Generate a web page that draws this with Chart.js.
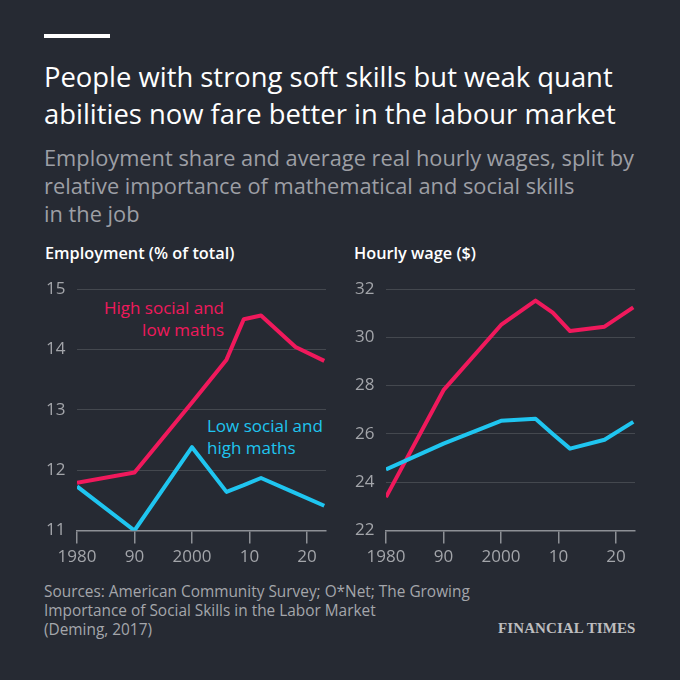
<!DOCTYPE html>
<html>
<head>
<meta charset="utf-8">
<script src="https://cdn.jsdelivr.net/npm/chart.js@4.4.1/dist/chart.umd.min.js"></script>
<style>
  html, body { margin:0; padding:0; }
  body { width:680px; height:680px; background:#262a33; position:relative; overflow:hidden; font-family:'Open Sans', sans-serif; }
  .abs { position:absolute; white-space:nowrap; }
  #bar { left:44px; top:34px; width:66px; height:4px; background:#fff; }
  #title { left:44px; top:58px; color:#fff; font-size:27.4px; line-height:37px; }
  #sub { left:44px; top:144px; color:#9d9fa5; font-size:21.8px; line-height:28px; }
  .ptitle { top:242px; color:#fff; font-size:16.3px; font-weight:600; }
  #foot { left:44px; top:582px; color:#a4a6ab; font-size:15.4px; line-height:19px; }
  #ft { left:498px; top:620px; color:#bdbdbf; font-family:'Liberation Serif', serif; font-weight:700; font-size:15px; letter-spacing:0.1px; }
  .ann { font-size:17px; line-height:22px; }
  canvas { position:absolute; }
</style>
</head>
<body>
<div id="bar" class="abs"></div>
<div id="title" class="abs">People with strong soft skills but weak quant<br>abilities now fare better in the labour market</div>
<div id="sub" class="abs">Employment share and average real hourly wages, split by<br>relative importance of mathematical and social skills<br>in the job</div>
<div class="abs ptitle" style="left:45px;">Employment (% of total)</div>
<div class="abs ptitle" style="left:354px;">Hourly wage ($)</div>
<div class="abs ann" style="right:456px; top:297px; text-align:right; color:#f0195c;">High social and<br>low maths</div>
<div class="abs ann" style="left:207px; top:415px; text-align:left; color:#1fc5f0;">Low social and<br>high maths</div>
<div id="foot" class="abs">Sources: American Community Survey; O*Net; The Growing<br>Importance of Social Skills in the Labor Market<br>(Deming, 2017)</div>
<div id="ft" class="abs">FINANCIAL TIMES</div>
<canvas id="c1" style="left:46px; top:270px; width:288px; height:300px;" width="288" height="300"></canvas>
<canvas id="c2" style="left:355px; top:270px; width:288px; height:300px;" width="288" height="300"></canvas>
<script>
const years = [1980, 1990, 2000, 2006, 2009, 2012, 2018, 2023];
const empHighSocialLowMaths = [11.79, 11.96, 13.12, 13.83, 14.50, 14.56, 14.04, 13.81];
const empLowSocialHighMaths = [11.73, 11.00, 12.38, 11.64, 11.75, 11.87, 11.62, 11.41];
const wageHighSocialLowMaths = [23.38, 27.81, 30.51, 31.52, 31.02, 30.26, 30.44, 31.24];
const wageLowSocialHighMaths = [24.53, 25.60, 26.54, 26.63, 26.00, 25.39, 25.76, 26.50];
const xTickValues = [1980, 1990, 2000, 2010, 2020];
const xTickLabels = ['1980', '90', '2000', '10', '20'];
const empTicks = [11, 12, 13, 14, 15];
const wageTicks = [22, 24, 26, 28, 30, 32];

const RED = '#f0195c', BLUE = '#1fc5f0';
const GRID = 'rgba(255,255,255,0.14)', AXIS = '#8d9096', TICKCOL = '#a3a5aa';

function pts(ys) { return years.map((y, i) => ({ x: y, y: ys[i] })); }

function makeChart(id, red, blue, yMin, yMax, yTicks) {
  return new Chart(document.getElementById(id), {
    type: 'line',
    data: {
      datasets: [
        { data: pts(blue), borderColor: BLUE, borderWidth: 4, pointRadius: 0, tension: 0, borderJoinStyle: 'round' },
        { data: pts(red), borderColor: RED, borderWidth: 4, pointRadius: 0, tension: 0, borderJoinStyle: 'round' }
      ]
    },
    options: {
      responsive: false,
      animation: false,
      devicePixelRatio: 1,
      layout: { padding: { top: 19, right: 8, left: 0, bottom: 0 } },
      plugins: { legend: { display: false }, tooltip: { enabled: false } },
      scales: {
        x: {
          type: 'linear', min: 1980, max: 2023.3,
          afterBuildTicks: s => { s.ticks = xTickValues.map(v => ({ value: v })); },
          afterFit: s => { s.height = 39.5; },
          ticks: {
            color: TICKCOL, font: { family: 'Open Sans', size: 17 }, padding: 3, maxRotation: 0, autoSkip: false,
            callback: (v) => xTickLabels[xTickValues.indexOf(v)]
          },
          grid: { drawOnChartArea: false, drawTicks: true, tickLength: 13, color: AXIS, lineWidth: 1.5 },
          border: { display: true, color: AXIS, width: 1.5 }
        },
        y: {
          min: yMin, max: yMax,
          afterBuildTicks: s => { s.ticks = yTicks.map(v => ({ value: v })); },
          afterFit: s => { s.width = 31; },
          ticks: { color: TICKCOL, font: { family: 'Open Sans', size: 17 }, crossAlign: 'far', padding: 0 },
          grid: { drawTicks: false, color: c => (c.tick && c.tick.value === yMin) ? AXIS : GRID, lineWidth: 1 },
          border: { display: false }
        }
      }
    }
  });
}
makeChart('c1', empHighSocialLowMaths, empLowSocialHighMaths, 11, 15, empTicks);
makeChart('c2', wageHighSocialLowMaths, wageLowSocialHighMaths, 22, 32, wageTicks);
</script>
</body>
</html>
